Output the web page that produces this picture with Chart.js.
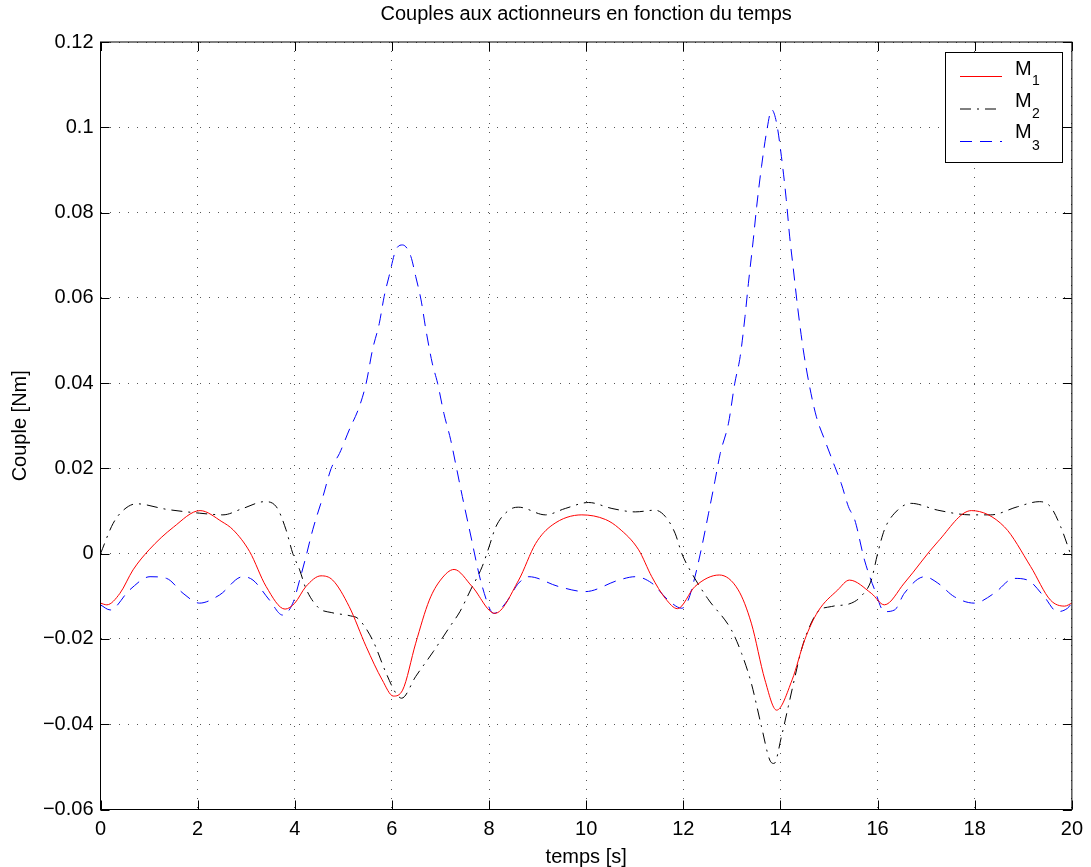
<!DOCTYPE html>
<html>
<head>
<meta charset="utf-8">
<script src="https://cdn.jsdelivr.net/npm/chart.js@4/dist/chart.umd.min.js"></script>
<style>
  html, body { margin: 0; padding: 0; background: #fff; }
  #wrap { width: 1091px; height: 867px; position: relative; }
</style>
</head>
<body>
<div id="wrap"><canvas id="chart"></canvas></div>
<script>
// tick values
const xTicks = [0, 2, 4, 6, 8, 10, 12, 14, 16, 18, 20];
const yTicks = [-0.06, -0.04, -0.02, 0, 0.02, 0.04, 0.06, 0.08, 0.1, 0.12];

// M1 (red, solid)
const t1 = [0, 0.13, 0.4, 0.67, 1.0, 1.5, 2.05, 2.5, 2.73, 3.07, 3.41, 3.8, 4.0, 4.23, 4.54, 4.78,
  5.12, 5.47, 5.8, 6.03, 6.22, 6.49, 6.77, 7.0, 7.28, 7.65, 8.12, 8.61, 8.96, 9.3, 9.91, 10.4,
  10.67, 11.08, 11.35, 11.63, 11.88, 12.24, 12.74, 13.13, 13.4, 13.68, 13.92, 14.24, 14.5, 14.77,
  15.18, 15.42, 15.87, 16.14, 16.55, 17.24, 17.93, 18.61, 19.15, 19.56, 19.85, 20];
const m1 = [-0.0116, -0.0120, -0.0093, -0.0038, 0.0009, 0.0062, 0.0101, 0.0075, 0.0056, 0.0005, -0.0077, -0.0130, -0.0116, -0.0077, -0.0052, -0.0062,
  -0.0124, -0.0218, -0.0296, -0.0334, -0.0320, -0.0210, -0.0109, -0.0062, -0.0037, -0.0077, -0.0140, -0.0062, 0.0024, 0.0067, 0.0091, 0.0080,
  0.0060, 0.0009, -0.0054, -0.0105, -0.0129, -0.0077, -0.0050, -0.0085, -0.0163, -0.0296, -0.0367, -0.0296, -0.0202, -0.0136,
  -0.0085, -0.0062, -0.0093, -0.0120, -0.0069, 0.0028, 0.0101, 0.0063, -0.0030, -0.0109, -0.0123, -0.0116];

// M2 (black, dash-dot)
const t2 = [0, 0.26, 0.47, 0.74, 1.36, 2.04, 2.52, 2.93, 3.38, 3.62, 3.82, 3.96, 4.1, 4.23, 4.5, 4.75,
  5.15, 5.3, 5.6, 5.88, 6.08, 6.2, 6.49, 6.85, 7.2, 7.4, 7.62, 7.86, 8.0, 8.14, 8.41, 8.61, 9.16,
  9.57, 10.05, 10.53, 11.01, 11.42, 11.63, 11.83, 11.97, 12.17, 12.5, 12.99, 13.2, 13.4, 13.61, 13.78,
  13.87, 14.02, 14.16, 14.3, 14.43, 14.57, 14.77, 15.05, 15.46, 15.66, 15.87, 16.0, 16.14, 16.35,
  16.69, 17.24, 17.92, 18.33, 18.88, 19.33, 19.56, 19.77, 20];
const m2 = [0.0000, 0.0071, 0.0102, 0.0117, 0.0104, 0.0095, 0.0091, 0.0106, 0.0122, 0.0110, 0.0056, 0.0000, -0.0038, -0.0082, -0.0128, -0.0138,
  -0.0146, -0.0152, -0.0202, -0.0280, -0.0327, -0.0339, -0.0288, -0.0230, -0.0170, -0.0136, -0.0085, -0.0030, 0.0016, 0.0063, 0.0102, 0.0109, 0.0091,
  0.0106, 0.0120, 0.0106, 0.0098, 0.0102, 0.0087, 0.0048, 0.0000, -0.0045, -0.0105, -0.0179, -0.0234, -0.0304, -0.0406, -0.0484,
  -0.0492, -0.0429, -0.0359, -0.0288, -0.0226, -0.0179, -0.0136, -0.0124, -0.0116, -0.0100, -0.0062, 0.0000, 0.0056, 0.0095,
  0.0118, 0.0102, 0.0091, 0.0091, 0.0110, 0.0122, 0.0110, 0.0063, -0.0010];

// M3 (blue, dashed)
const t3 = [0, 0.2, 0.6, 1.02, 1.36, 1.7, 2.04, 2.45, 2.93, 3.14, 3.48, 3.75, 3.96, 4.1, 4.23, 4.37,
  4.58, 4.75, 4.92, 5.12, 5.33, 5.47, 5.6, 5.74, 5.84, 5.94, 6.08, 6.22, 6.39, 6.49, 6.6, 6.7,
  6.83, 6.94, 7.07, 7.21, 7.31, 7.45, 7.59, 7.86, 8.1, 8.34, 8.61, 8.82, 9.43, 9.98, 10.67, 11.01,
  11.35, 11.69, 11.97, 12.1, 12.24, 12.38, 12.52, 12.65, 12.76, 12.93, 13.06, 13.17, 13.27, 13.34,
  13.44, 13.51, 13.61, 13.71, 13.82, 13.92, 14.02, 14.12, 14.19, 14.26, 14.36, 14.47, 14.6, 14.74,
  14.91, 15.12, 15.25, 15.4, 15.53, 15.73, 15.94, 16.14, 16.35, 16.55, 16.97, 17.24, 17.58, 17.99,
  18.4, 18.81, 19.09, 19.43, 19.7, 19.91, 20];
const m3 = [-0.0120, -0.0132, -0.0085, -0.0054, -0.0058, -0.0093, -0.0116, -0.0097, -0.0054, -0.0062, -0.0109, -0.0144, -0.0116, -0.0062, -0.0007, 0.0056,
  0.0134, 0.0200, 0.0235, 0.0290, 0.0345, 0.0400, 0.0478, 0.0540, 0.0603, 0.0650, 0.0712, 0.0724, 0.0697, 0.0650, 0.0595, 0.0525,
  0.0447, 0.0400, 0.0329, 0.0267, 0.0212, 0.0134, 0.0060, -0.0077, -0.0140, -0.0116, -0.0069, -0.0054, -0.0077, -0.0089, -0.0062, -0.0054,
  -0.0069, -0.0109, -0.0128, -0.0109, -0.0054, 0.0016, 0.0095, 0.0170, 0.0235, 0.0306, 0.0400, 0.0462, 0.0556, 0.0634,
  0.0736, 0.0814, 0.0908, 0.0986, 0.1041, 0.1010, 0.0931, 0.0830, 0.0743, 0.0673, 0.0572, 0.0478, 0.0392, 0.0321,
  0.0267, 0.0204, 0.0165, 0.0110, 0.0079, -0.0015, -0.0085, -0.0136, -0.0132, -0.0093, -0.0054, -0.0069, -0.0101, -0.0116,
  -0.0093, -0.0058, -0.0062, -0.0101, -0.0136, -0.0128, -0.0116];

const FONT = '"Liberation Sans", Arial, Helvetica, sans-serif';

function pts(ts, vs) {
  return ts.map((t, i) => ({x: t, y: vs[i]}));
}

function fmtY(v) {
  if (Math.abs(v) < 1e-9) return '0';
  return String(+v.toFixed(2)).replace('-', '\u2212');
}

// box round the plot + inward ticks on all four sides
const frame = {
  id: 'frame',
  afterDatasetsDraw(chart) {
    const {ctx, chartArea: a, scales} = chart;
    const len = 9;
    ctx.save();
    ctx.strokeStyle = '#000';
    ctx.lineWidth = 1;
    ctx.strokeRect(a.left, a.top, a.right - a.left, a.bottom - a.top);
    ctx.beginPath();
    scales.x.ticks.forEach(t => {
      const px = Math.round(scales.x.getPixelForValue(t.value)) + 0.5;
      ctx.moveTo(px, a.bottom); ctx.lineTo(px, a.bottom - len);
      ctx.moveTo(px, a.top); ctx.lineTo(px, a.top + len);
    });
    scales.y.ticks.forEach(t => {
      const py = Math.round(scales.y.getPixelForValue(t.value)) + 0.5;
      ctx.moveTo(a.left, py); ctx.lineTo(a.left + len, py);
      ctx.moveTo(a.right, py); ctx.lineTo(a.right - len, py);
    });
    ctx.stroke();
    ctx.restore();
  }
};

// legend box in the top-right corner, with subscripts
const subLegend = {
  id: 'subLegend',
  afterDraw(chart) {
    const {ctx} = chart;
    const box = {x: 945.5, y: 52.5, w: 117, h: 110};
    ctx.save();
    ctx.fillStyle = '#fff';
    ctx.fillRect(box.x, box.y, box.w, box.h);
    ctx.strokeStyle = '#000';
    ctx.lineWidth = 1;
    ctx.strokeRect(box.x, box.y, box.w, box.h);
    chart.data.datasets.forEach((ds, i) => {
      const opts = chart.getDatasetMeta(i).dataset.options;
      const ly = 76.5 + i * 32.5;
      ctx.save();
      ctx.beginPath();
      ctx.strokeStyle = opts.borderColor;
      ctx.lineWidth = opts.borderWidth;
      ctx.setLineDash(opts.borderDash || []);
      ctx.moveTo(960, ly);
      ctx.lineTo(1002, ly);
      ctx.stroke();
      ctx.restore();
      ctx.fillStyle = '#000';
      ctx.textBaseline = 'alphabetic';
      ctx.font = '20px ' + FONT;
      ctx.fillText(ds.label.charAt(0), 1015, ly - 1.5 - i * 1);
      ctx.font = '14px ' + FONT;
      ctx.fillText(ds.label.slice(1), 1032, ly + 8.5);
    });
    ctx.restore();
  }
};

new Chart(document.getElementById('chart').getContext('2d'), {
  type: 'line',
  data: {
    datasets: [
      {
        label: 'M1',
        data: pts(t1, m1),
        borderColor: '#ff0000',
        borderWidth: 1,
        pointRadius: 0,
        cubicInterpolationMode: 'monotone',
        fill: false
      },
      {
        label: 'M2',
        data: pts(t2, m2),
        borderColor: '#000000',
        borderWidth: 1,
        borderDash: [11, 6, 2, 6],
        pointRadius: 0,
        cubicInterpolationMode: 'monotone',
        fill: false
      },
      {
        label: 'M3',
        data: pts(t3, m3),
        borderColor: '#0000ff',
        borderWidth: 1,
        borderDash: [12, 8],
        pointRadius: 0,
        cubicInterpolationMode: 'monotone',
        fill: false
      }
    ]
  },
  options: {
    responsive: true,
    maintainAspectRatio: false,
    animation: false,
    layout: {padding: {left: 0, right: 17, top: 0, bottom: 0}},
    plugins: {
      legend: {display: false},
      tooltip: {enabled: false},
      title: {
        display: true,
        text: 'Couples aux actionneurs en fonction du temps',
        fullSize: false,
        color: '#000',
        font: {family: FONT, size: 20, weight: 'normal', lineHeight: 1.2},
        padding: {top: 2, bottom: 16}
      }
    },
    scales: {
      x: {
        type: 'linear',
        min: 0,
        max: 20,
        afterBuildTicks: s => { s.ticks = xTicks.map(v => ({value: v})); },
        afterFit: s => { s.height = 57.5; },
        ticks: {
          color: '#000',
          padding: 8,
          maxRotation: 0,
          autoSkip: false,
          font: {family: FONT, size: 20}
        },
        grid: {color: '#555', lineWidth: 1, drawTicks: false},
        border: {display: false, dash: [1, 8]},
        title: {
          display: true,
          text: 'temps [s]',
          color: '#000',
          font: {family: FONT, size: 20, lineHeight: 1},
          padding: {top: 0, bottom: 0}
        }
      },
      y: {
        type: 'linear',
        min: -0.06,
        max: 0.12,
        afterBuildTicks: s => { s.ticks = yTicks.map(v => ({value: v})); },
        afterFit: s => { s.width = 100.5; },
        ticks: {
          color: '#000',
          padding: 7,
          autoSkip: false,
          font: {family: FONT, size: 20},
          callback: v => fmtY(v)
        },
        grid: {color: '#555', lineWidth: 1, drawTicks: false},
        border: {display: false, dash: [1, 8]},
        title: {
          display: true,
          text: 'Couple [Nm]',
          color: '#000',
          font: {family: FONT, size: 20, lineHeight: 1},
          padding: {top: 10, bottom: 0}
        }
      }
    }
  },
  plugins: [frame, subLegend]
});
</script>
</body>
</html>
